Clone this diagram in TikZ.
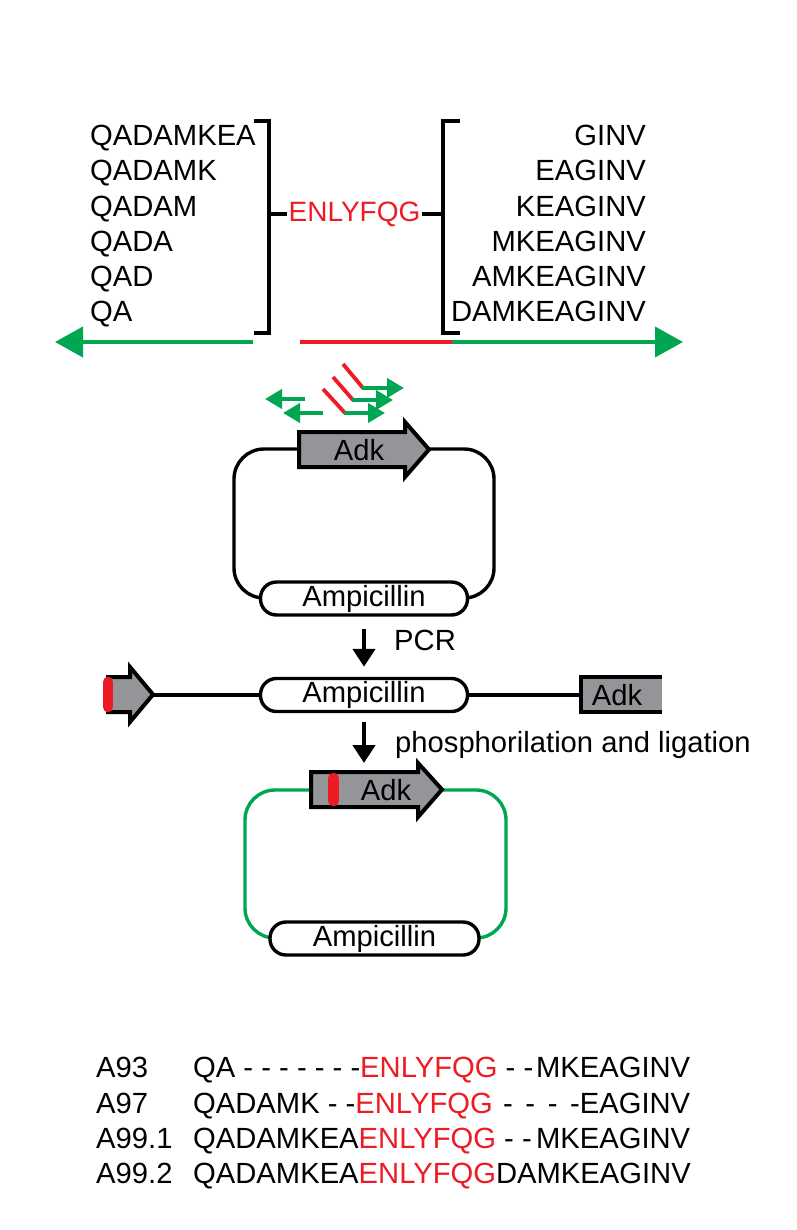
\documentclass[tikz,border=0pt]{standalone}
\usepackage{fontspec}
\setmainfont{Liberation Sans}
\usetikzlibrary{arrows.meta,positioning}
\definecolor{primergreen}{HTML}{00A651}
\definecolor{tagred}{HTML}{ED1C24}
\definecolor{genegray}{HTML}{939598}
\newcommand{\seqfont}{\fontsize{29.2}{34}\selectfont}
\tikzset{
  seq/.style={font=\seqfont,inner sep=0pt,text height=21pt,text depth=0pt},
  genelabel/.style={font=\seqfont,inner sep=0pt},
  bracket/.style={line width=4pt},
  grarrow/.style={-{Triangle[length=28pt,width=30pt]},line width=4pt,primergreen},
  primer/.style={-{Triangle[length=17pt,width=19pt]},line width=3.8pt,primergreen},
  tagline/.style={line width=3.8pt,tagred},
  tagcap/.style={line width=10.5pt,line cap=round,tagred},
  plasmid/.style={line width=3.4pt,rounded corners=30pt},
  gene/.style={draw=black,fill=genegray,line width=4pt},
  ampbox/.style={draw,fill=white,line width=3.4pt,rounded corners=16pt,
    minimum width=207pt,minimum height=33pt,inner sep=0pt,font=\seqfont},
  stepflow/.style={-{Triangle[length=18pt,width=22pt]},line width=4.5pt},
}
\begin{document}
\begin{tikzpicture}[x=1pt,y=-1pt]
  \useasboundingbox (0,0) rectangle (796,1230);
  % truncations on both sides of the linker
  \node[seq,anchor=south west] (l1) at (90,146) {QADAMKEA};
  \node[seq,below=13.8pt of l1.south west,anchor=north west] (l2) {QADAMK};
  \node[seq,below=13.8pt of l2.south west,anchor=north west] (l3) {QADAM};
  \node[seq,below=13.8pt of l3.south west,anchor=north west] (l4) {QADA};
  \node[seq,below=13.8pt of l4.south west,anchor=north west] (l5) {QAD};
  \node[seq,below=13.8pt of l5.south west,anchor=north west] (l6) {QA};
  \node[seq,anchor=south east] (r1) at (646,146) {GINV};
  \node[seq,below=13.8pt of r1.south east,anchor=north east] (r2) {EAGINV};
  \node[seq,below=13.8pt of r2.south east,anchor=north east] (r3) {KEAGINV};
  \node[seq,below=13.8pt of r3.south east,anchor=north east] (r4) {MKEAGINV};
  \node[seq,below=13.8pt of r4.south east,anchor=north east] (r5) {AMKEAGINV};
  \node[seq,below=13.8pt of r5.south east,anchor=north east] (r6) {DAMKEAGINV};
  \node[font=\fontsize{28}{32}\selectfont,text=tagred,inner sep=1.5pt] (core) at (354.5,214) {ENLYFQG};
  \draw[bracket] (254,121) -| (269,333) -- (254,333);
  \draw[bracket] (460,121) -| (443,333) -- (460,333);
  \coordinate (lbrmid) at (269,214);
  \coordinate (rbrmid) at (443,214);
  \draw[bracket] (lbrmid) -- (core.west);
  \draw[bracket] (core.east) -- (rbrmid);
  % gene line
  \coordinate (gl) at (253,342);
  \coordinate (gtipL) at (55,342);
  \coordinate (rs) at (300,342);
  \coordinate (re) at (452,342);
  \coordinate (gtipR) at (683,342);
  \draw[grarrow] (gl) -- (gtipL);
  \draw[tagline,line width=4pt] (rs) -- (re);
  \draw[grarrow] (re) -- (gtipR);
  % primers
  \draw[primer] (305,399) -- (265,399);
  \draw[primer] (323,413) -- (283,413);
  \draw[tagline] (343,364) -- (363,388);
  \draw[primer] (362,388) -- (404,388);
  \draw[tagline] (333,377) -- (353,400);
  \draw[primer] (352,400) -- (393,400);
  \draw[tagline] (323,389) -- (345,413);
  \draw[primer] (344,413) -- (385,413);
  % template plasmid
  \draw[plasmid] (234,449) rectangle (494,598);
  \draw[gene] (299,432) -- (405,432) -- (405,422) -- (429,449.5) -- (405,477)
    -- (405,467) -- (299,467) -- cycle;
  \node[genelabel] (adk1) at (359,450) {Adk};
  \node[ampbox] (amp1) at (364,598.5) {Ampicillin};
  % PCR product
  \node[ampbox] (amp2) at (364,695) {Ampicillin};
  \draw[gene] (108,677) -- (130,677) -- (130,667) -- (153,694.5) -- (130,722)
    -- (130,712) -- (108,712) -- cycle;
  \draw[tagcap] (108,682) -- (108,707);
  \coordinate (fragtip) at (153,695);
  \draw[line width=3.4pt] (fragtip) -- (amp2.west);
  \fill[genegray] (581,677) rectangle (662,712);
  \draw[line width=4pt] (662,677) -- (581,677) -- (581,712) -- (662,712);
  \node[genelabel] (adk2) at (617,695) {Adk};
  \coordinate (adkcut) at (581,695);
  \draw[line width=3.4pt] (amp2.east) -- (adkcut);
  % ligated plasmid
  \draw[plasmid,primergreen] (245,790) rectangle (506,938);
  \draw[gene] (311,772) -- (418,772) -- (418,763) -- (442,789.5) -- (418,817)
    -- (418,807) -- (311,807) -- cycle;
  \draw[tagcap] (333.5,778) -- (333.5,801);
  \node[genelabel] (adk3) at (386,790) {Adk};
  \node[ampbox,minimum width=209pt] (amp3) at (374.5,938.5) {Ampicillin};
  % steps
  \coordinate (adk3top) at (364,763);
  \draw[stepflow,shorten <=12pt,shorten >=10pt] (amp1.south) -- (amp2.north);
  \draw[stepflow,shorten <=9pt] (amp2.south) -- (adk3top);
  \node[font=\seqfont,inner sep=0pt,anchor=base west] (pcr) at (394,650) {PCR};
  \node[font=\seqfont,inner sep=0pt,anchor=base west] (lig) at (395,752)
    {phosphorilation and ligation};
  % clones
  \node[seq,anchor=south west] (a93) at (96,1078) {A93};
  \node[seq,below=13.8pt of a93.south west,anchor=north west] (a97) {A97};
  \node[seq,below=13.8pt of a97.south west,anchor=north west] (a991) {A99.1};
  \node[seq,below=13.8pt of a991.south west,anchor=north west] (a992) {A99.2};
  \node[seq,anchor=south west] (s93) at (193,1078)
    {\makebox[497pt][l]{QA - - - - - - -\textcolor{tagred}{ENLYFQG} - -\hfill MKEAGINV}};
  \node[seq,below=13.8pt of s93.south west,anchor=north west] (s97)
    {\makebox[497pt][l]{QADAMK - -\textcolor{tagred}{ENLYFQG}\hspace{0.35em}-\hfill-\hfill-\hfill-EAGINV}};
  \node[seq,below=13.8pt of s97.south west,anchor=north west] (s991)
    {\makebox[497pt][l]{QADAMKEA\textcolor{tagred}{ENLYFQG} - -\hfill MKEAGINV}};
  \node[seq,below=13.8pt of s991.south west,anchor=north west] (s992)
    {QADAMKEA\textcolor{tagred}{ENLYFQG}DAMKEAGINV};
\end{tikzpicture}
\end{document}
